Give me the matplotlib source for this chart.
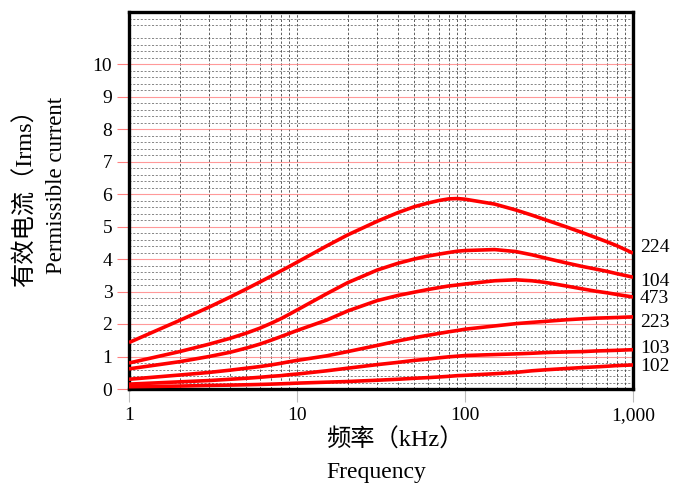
import matplotlib
matplotlib.use("Agg")
import matplotlib.pyplot as plt
import numpy as np
from matplotlib.ticker import FixedLocator, FixedFormatter, NullFormatter

# ---- data ----
freq = [1, 2, 3, 4, 5, 6, 7, 8, 9, 10, 15, 20, 30, 40, 50, 60, 70, 80, 90, 100,
        150, 200, 250, 300, 400, 500, 600, 700, 800, 1000]

c224 = [1.43, 2.11, 2.52, 2.83, 3.08, 3.29, 3.47, 3.63, 3.77, 3.90, 4.40, 4.74, 5.16, 5.43, 5.61, 5.72, 5.80, 5.85, 5.86, 5.84,
        5.69, 5.51, 5.35, 5.21, 4.99, 4.81, 4.66, 4.53, 4.41, 4.18]
c104 = [0.80, 1.15, 1.38, 1.56, 1.72, 1.87, 2.02, 2.16, 2.30, 2.43, 2.93, 3.27, 3.66, 3.87, 4.00, 4.09, 4.15, 4.20, 4.24, 4.26,
        4.29, 4.23, 4.13, 4.03, 3.88, 3.77, 3.69, 3.62, 3.55, 3.44]
c473 = [0.62, 0.84, 1.00, 1.13, 1.26, 1.38, 1.50, 1.61, 1.71, 1.80, 2.12, 2.40, 2.72, 2.88, 2.98, 3.06, 3.12, 3.17, 3.20, 3.23,
        3.33, 3.36, 3.33, 3.28, 3.17, 3.08, 3.01, 2.96, 2.91, 2.83]
c223 = [0.30, 0.43, 0.51, 0.58, 0.64, 0.69, 0.74, 0.79, 0.84, 0.88, 1.02, 1.15, 1.34, 1.48, 1.58, 1.65, 1.71, 1.76, 1.80, 1.84,
        1.94, 2.01, 2.05, 2.08, 2.13, 2.16, 2.18, 2.19, 2.20, 2.22]
c103 = [0.15, 0.22, 0.26, 0.30, 0.33, 0.36, 0.39, 0.41, 0.44, 0.46, 0.56, 0.64, 0.75, 0.82, 0.88, 0.92, 0.96, 0.99, 1.01, 1.03,
        1.06, 1.08, 1.10, 1.12, 1.14, 1.15, 1.17, 1.18, 1.19, 1.21]
c102 = [0.07, 0.09, 0.11, 0.12, 0.13, 0.14, 0.15, 0.16, 0.17, 0.18, 0.21, 0.23, 0.27, 0.30, 0.33, 0.35, 0.37, 0.39, 0.41, 0.42,
        0.47, 0.51, 0.56, 0.59, 0.63, 0.66, 0.68, 0.70, 0.72, 0.74]

series = [c224, c104, c473, c223, c103, c102]
series_names = ["224", "104", "473", "223", "103", "102"]
name_y = [4.34, 3.32, 2.77, 2.06, 1.26, 0.68]

x_ticks = [1, 10, 100, 1000]
x_ticklabels = ["1", "10", "100", "1,000"]
y_ticks = list(range(0, 11))

# ---- figure ----
plt.rcParams['font.family'] = ['Liberation Serif', 'Noto Sans CJK SC', 'DejaVu Sans']
fig = plt.figure(figsize=(6.82, 4.86), dpi=100)
ax = fig.add_axes([129/682, 1 - 389/486, (633-129)/682, (389-12)/486])

ax.set_xscale('log')
ax.set_xlim(1, 1000)
ax.set_ylim(0, 11.6)

ax.xaxis.set_major_locator(FixedLocator(x_ticks))
ax.xaxis.set_major_formatter(FixedFormatter(x_ticklabels))
minor_x = [m * 10**d for d in range(0, 3) for m in range(2, 10)]
ax.xaxis.set_minor_locator(FixedLocator(minor_x))
ax.xaxis.set_minor_formatter(NullFormatter())
ax.yaxis.set_major_locator(FixedLocator(y_ticks))
minor_y = [round(v, 1) for v in np.arange(0.2, 11.6, 0.2) if abs(v - round(v)) > 1e-6]
ax.yaxis.set_minor_locator(FixedLocator(minor_y))

ax.grid(True, axis='x', which='both', color='#333333', linestyle=(0, (2.5, 2)), linewidth=0.7, alpha=0.8)
ax.grid(True, axis='y', which='minor', color='#444444', linestyle=(0, (2.5, 2)), linewidth=0.6, alpha=0.75)
ax.grid(True, axis='y', which='major', color='#ff8080', linestyle='-', linewidth=0.8, alpha=0.8)
ax.set_axisbelow(True)

for s in series:
    ax.plot(freq, s, color='#ff0000', linewidth=2.6, solid_capstyle='butt', zorder=3)

for name, yv in zip(series_names, name_y):
    ax.text(1.0 + 7/504, yv, name, transform=ax.get_yaxis_transform(), fontsize=14,
            va='center', ha='left', color='black', clip_on=False)

for sp in ax.spines.values():
    sp.set_linewidth(2.4)
    sp.set_color('black')

ax.tick_params(axis='x', which='major', length=9, width=0.8, color='#bbbbbb', labelsize=14, pad=4)
ax.tick_params(axis='y', which='major', length=9, width=0.8, color='#ff8080', labelsize=14, pad=3)
ax.tick_params(which='minor', length=0)

fig.text(326/682, 1 - 440/486, "频率（kHz）", fontsize=17.5, ha='left', va='center')
fig.text(326/682, 1 - 472/486, "Frequency", fontsize=17, ha='left', va='center')
fig.text(25/682, 1 - 192/486, "有效电流（Irms）", fontsize=17.5, ha='center', va='center', rotation=90)
fig.text(57/682, 1 - 185/486, "Permissible current", fontsize=16.5, ha='center', va='center', rotation=90)

fig.savefig("out.png", dpi=100)
